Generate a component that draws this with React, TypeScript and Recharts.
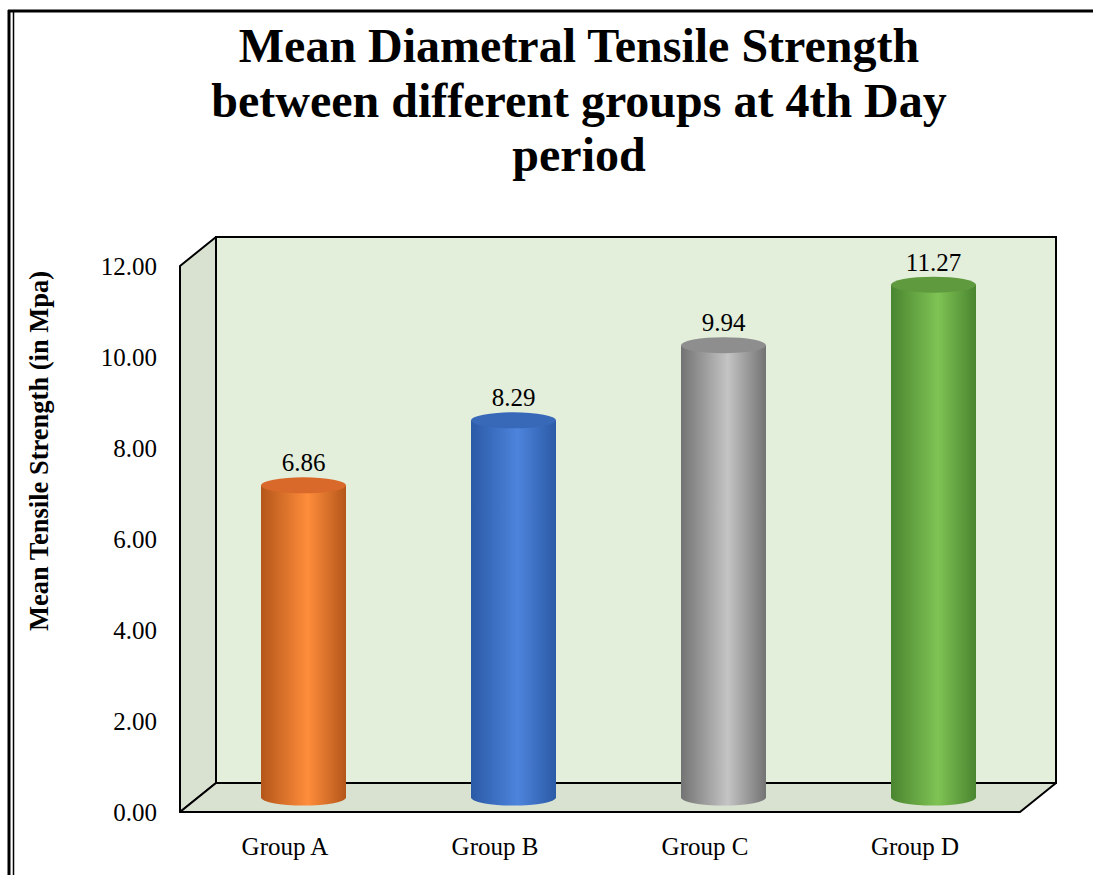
import React from 'react';
import { BarChart, Bar, XAxis, YAxis, LabelList } from 'recharts';

const groups = ['Group A', 'Group B', 'Group C', 'Group D'];
const meanStrength = [6.86, 8.29, 9.94, 11.27];
const yTicks = [0, 2, 4, 6, 8, 10, 12];

const data = groups.map((g, i) => ({ group: g, value: meanStrength[i] }));

// colours for each cylinder: edge, middle highlight, top cap
const PALETTE = [
  { edge: '#b4561a', mid: '#ff8d3b', top: '#d8692a' },
  { edge: '#2b5aa6', mid: '#4d84dc', top: '#3868b8' },
  { edge: '#737373', mid: '#c4c4c4', top: '#8e8e8e' },
  { edge: '#4a8530', mid: '#7fc354', top: '#5f9a3e' },
];

const W = 1093;
const H = 875;
// plot area sits on the middle depth plane of the 3d box
const P_LEFT = 198;
const P_RIGHT = 1038;
const P_TOP = 251.5;
const P_BOTTOM = 797.5;
const DX = 18;
const DY = 14.5;
const Y_AXIS_W = 60;
const X_AXIS_H = 30;
const SERIF = '"Liberation Serif", "Times New Roman", serif';

const Cylinder = (props: any) => {
  const { x, y, width, height, index } = props;
  if (height == null || width == null) return null;
  const c = PALETTE[index % PALETTE.length];
  const rx = width / 2;
  const ry = 8;
  const id = `cyl-${index}`;
  const bottom = y + height;
  return (
    <g>
      <defs>
        <linearGradient id={id} x1="0" y1="0" x2="1" y2="0">
          <stop offset="0%" stopColor={c.edge} />
          <stop offset="55%" stopColor={c.mid} />
          <stop offset="100%" stopColor={c.edge} />
        </linearGradient>
      </defs>
      <path
        d={`M${x},${y} L${x},${bottom} A${rx},${ry} 0 0 0 ${x + width},${bottom} L${x + width},${y} Z`}
        fill={`url(#${id})`}
      />
      <ellipse cx={x + rx} cy={y} rx={rx} ry={ry} fill={c.top} />
    </g>
  );
};

const YTick = (props: any) => {
  const { y, payload } = props;
  return (
    <text x={P_LEFT - 41} y={y + DY} textAnchor="end" dominantBaseline="central"
      fontFamily={SERIF} fontSize={25} fill="#000">
      {Number(payload.value).toFixed(2)}
    </text>
  );
};

const XTick = (props: any) => {
  const { x, payload } = props;
  return (
    <text x={x - DX} y={846} textAnchor="middle" dominantBaseline="central"
      fontFamily={SERIF} fontSize={25} fill="#000">
      {payload.value}
    </text>
  );
};

const Backdrop = () => {
  const bl = P_LEFT + DX, br = P_RIGHT + DX, bt = P_TOP - DY, bb = P_BOTTOM - DY;
  const fl = P_LEFT - DX, fr = P_RIGHT - DX, ft = P_TOP + DY, fb = P_BOTTOM + DY;
  return (
    <svg width={W} height={H} style={{ position: 'absolute', left: 0, top: 0 }}>
      <rect x={0} y={0} width={W} height={H} fill="#fff" />
      <line x1={8} y1={11} x2={W} y2={11} stroke="#000" strokeWidth={3} />
      <line x1={9} y1={10} x2={9} y2={H} stroke="#000" strokeWidth={3} />
      <line x1={13.5} y1={12} x2={13.5} y2={H} stroke="#000" strokeWidth={1.5} />
      <text textAnchor="middle" fontFamily={SERIF} fontWeight="bold" fontSize={48} fill="#000">
        <tspan x={579} y={62}>Mean Diametral Tensile Strength</tspan>
        <tspan x={579} y={117}>between different groups at 4th Day</tspan>
        <tspan x={579} y={171}>period</tspan>
      </text>
      <text transform={`translate(39, 451) rotate(-90)`} textAnchor="middle" dominantBaseline="central"
        fontFamily={SERIF} fontWeight="bold" fontSize={26.5} fill="#000">
        Mean Tensile Strength (in Mpa)
      </text>
      <polygon points={`${bl},${bt} ${br},${bt} ${br},${bb} ${bl},${bb}`} fill="#e3eedb" stroke="#000" strokeWidth={2} />
      <polygon points={`${fl},${ft} ${bl},${bt} ${bl},${bb} ${fl},${fb}`} fill="#d9e2d1" stroke="#000" strokeWidth={2} strokeLinejoin="round" />
      <polygon points={`${fl},${fb} ${bl},${bb} ${br},${bb} ${fr},${fb}`} fill="#d9e2d1" stroke="#000" strokeWidth={2} strokeLinejoin="round" />
    </svg>
  );
};

export default function App() {
  return (
    <div style={{ position: 'absolute', left: 0, top: 0, width: W, height: H }}>
      <Backdrop />
      <div style={{ position: 'absolute', left: 0, top: 0 }}>
        <BarChart
          width={W}
          height={H}
          data={data}
          margin={{ top: P_TOP, right: W - P_RIGHT, bottom: H - P_BOTTOM - X_AXIS_H, left: P_LEFT - Y_AXIS_W }}
        >
          <XAxis dataKey="group" height={X_AXIS_H} axisLine={false} tickLine={false} tick={<XTick />} interval={0} />
          <YAxis width={Y_AXIS_W} domain={[0, 12]} ticks={yTicks} axisLine={false} tickLine={false} tick={<YTick />} />
          <Bar dataKey="value" barSize={85} shape={<Cylinder />} isAnimationActive={false}>
            <LabelList dataKey="value" position="top" offset={14} fontFamily={SERIF} fontSize={25} fill="#000"
              formatter={(v: any) => Number(v).toFixed(2)} />
          </Bar>
        </BarChart>
      </div>
    </div>
  );
}
